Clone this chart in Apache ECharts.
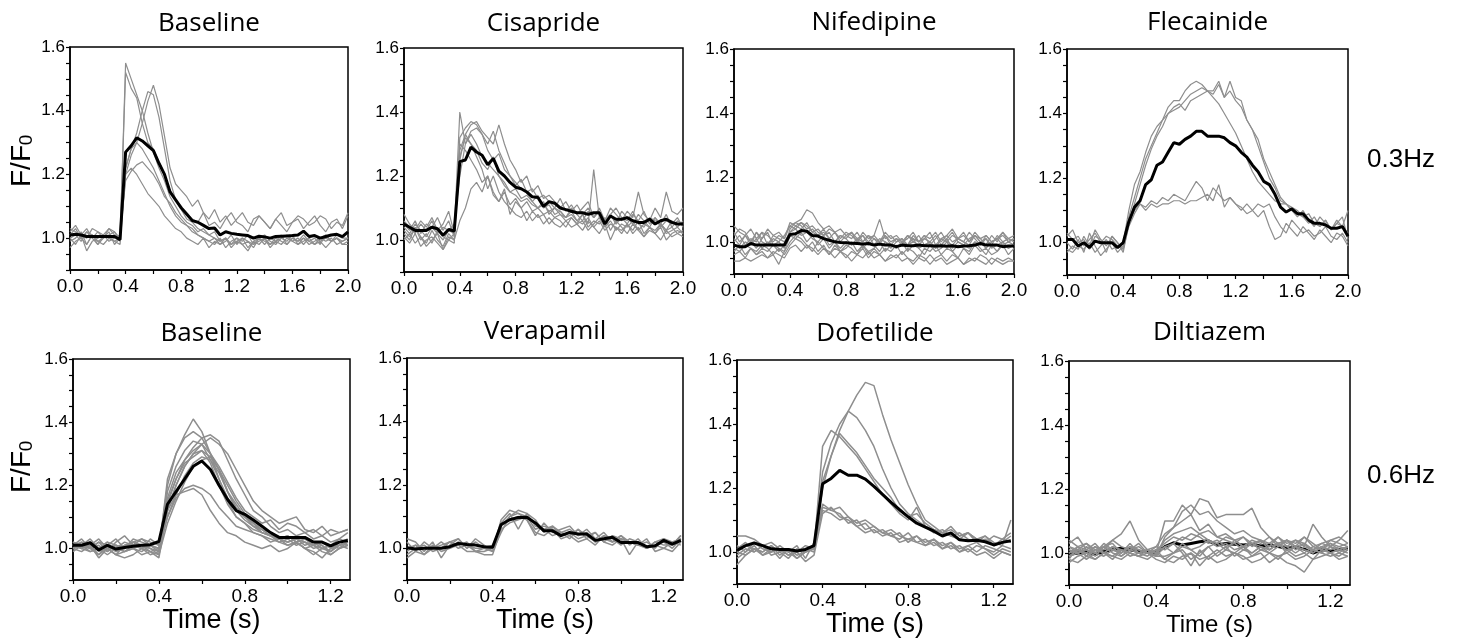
<!DOCTYPE html>
<html>
<head>
<meta charset="utf-8">
<script src="https://cdn.jsdelivr.net/npm/echarts@6/dist/echarts.min.js"></script>
<style>
  html, body { margin: 0; padding: 0; background: #fff; }
  #chart { width: 1460px; height: 640px; }
</style>
</head>
<body>
<div id="chart"></div>
<script>
// sample times (s)
const timeSlow = [0,0.04,0.08,0.12,0.16,0.2,0.24,0.28,0.32,0.36,0.4,0.44,0.48,0.52,0.56,0.6,0.64,0.68,0.72,0.76,0.8,0.84,0.88,0.92,0.96,1.0,1.04,1.08,1.12,1.16,1.2,1.24,1.28,1.32,1.36,1.4,1.44,1.48,1.52,1.56,1.6,1.64,1.68,1.72,1.76,1.8,1.84,1.88,1.92,1.96,2.0];
const timeFast = [0,0.04,0.08,0.12,0.16,0.2,0.24,0.28,0.32,0.36,0.4,0.44,0.48,0.52,0.56,0.6,0.64,0.68,0.72,0.76,0.8,0.84,0.88,0.92,0.96,1.0,1.04,1.08,1.12,1.16,1.2,1.24,1.28];

// tick values
const slowTicks = [0,0.2,0.4,0.6,0.8,1.0,1.2,1.4,1.6,1.8,2.0];
const slowLabels = [0,0.4,0.8,1.2,1.6,2.0];
const fastTicks = [0,0.2,0.4,0.6,0.8,1.0,1.2];
const fastLabels = [0,0.4,0.8,1.2];
const yTicks = [0.9,0.95,1.0,1.05,1.1,1.15,1.2,1.25,1.3,1.35,1.4,1.45,1.5,1.55,1.6];
const yLabels = [1.0,1.2,1.4,1.6];

const panelTitles = ['Baseline','Cisapride','Nifedipine','Flecainide','Baseline','Verapamil','Dofetilide','Diltiazem'];
const rateLabels = ['0.3Hz','0.6Hz'];

// ---- 0.3 Hz ----
const baselineSlowTraces = [
  [1.03,1.02,1.01,1.03,1.00,1.02,1.01,1.03,1.02,0.99,1.55,1.50,1.45,1.40,1.33,1.27,1.22,1.18,1.13,1.10,1.07,1.05,1.04,1.02,1.03,1.01,1.00,0.99,1.00,0.98,1.00,0.99,1.01,0.98,0.99,1.00,0.98,0.99,1.00,1.01,0.99,1.00,0.98,1.00,1.01,0.99,1.00,0.99,1.01,1.00,1.00],
  [1.00,1.01,0.99,1.02,1.00,0.98,1.01,1.00,0.99,1.00,1.52,1.47,1.44,1.36,1.30,1.28,1.24,1.20,1.15,1.12,1.09,1.06,1.05,1.03,1.02,1.01,1.02,0.99,1.00,0.98,0.99,1.00,0.97,0.99,1.00,0.98,1.00,0.99,1.01,0.98,1.00,0.99,1.00,0.98,0.99,1.00,1.01,0.99,1.00,0.98,0.99],
  [1.02,1.04,1.01,1.00,1.03,1.02,1.00,1.01,1.02,1.00,1.20,1.26,1.30,1.36,1.43,1.48,1.42,1.32,1.22,1.17,1.15,1.13,1.10,1.12,1.08,1.06,1.09,1.05,1.07,1.04,1.06,1.08,1.05,1.04,1.07,1.05,1.03,1.06,1.08,1.04,1.05,1.07,1.06,1.04,1.05,1.07,1.06,1.03,1.05,1.04,1.08],
  [0.99,1.00,1.02,0.98,1.01,0.99,1.00,1.02,0.98,1.00,1.22,1.28,1.33,1.40,1.46,1.45,1.38,1.28,1.18,1.12,1.10,1.08,1.06,1.05,1.08,1.04,1.05,1.03,1.06,1.08,1.05,1.04,1.02,1.06,1.07,1.05,1.03,1.06,1.04,1.02,1.05,1.06,1.03,1.05,1.07,1.04,1.02,1.05,1.06,1.03,1.07],
  [1.01,1.03,1.00,1.02,1.01,0.98,1.00,1.03,1.01,1.00,1.22,1.28,1.30,1.28,1.25,1.22,1.18,1.14,1.10,1.07,1.05,1.04,1.02,1.01,1.00,0.99,0.98,1.00,0.97,0.99,1.00,0.98,0.99,0.97,1.00,0.99,0.98,1.00,0.99,0.98,1.00,0.99,1.01,0.99,0.98,1.00,0.99,1.00,0.98,0.99,1.00],
  [0.97,0.99,1.00,0.98,1.01,0.99,0.98,1.00,0.99,0.98,1.20,1.22,1.20,1.17,1.14,1.12,1.10,1.07,1.05,1.03,1.02,1.00,0.99,0.98,1.00,0.97,0.99,0.98,1.00,0.97,0.99,0.98,0.96,0.99,0.98,1.00,0.97,0.99,0.98,1.00,0.99,0.98,0.99,1.00,0.98,0.99,0.97,0.99,1.00,0.98,0.98],
  [1.00,0.98,1.01,0.96,0.99,1.00,1.01,0.99,1.00,1.01,1.18,1.21,1.23,1.24,1.22,1.20,1.17,1.13,1.11,1.08,1.06,1.04,1.03,1.01,1.00,0.99,1.00,0.98,0.99,1.01,0.98,1.00,0.99,0.98,1.00,1.01,0.99,0.98,1.00,0.99,1.01,0.98,1.00,0.99,1.00,0.98,1.01,0.99,1.00,0.99,1.00]
];
const baselineSlowMean = [1.01,1.012,1.01,1.005,1.005,1.005,1.005,1.005,1.005,0.995,1.27,1.29,1.315,1.305,1.29,1.275,1.235,1.2,1.145,1.12,1.095,1.075,1.055,1.05,1.04,1.03,1.032,1.01,1.02,1.015,1.012,1.01,1.008,1.0,1.006,1.004,1.0,1.005,1.006,1.007,1.008,1.01,1.022,1.005,1.008,1.0,1.005,1.01,1.012,1.005,1.02];

const cisaprideTraces = [
  [1.08,1.05,1.03,1.06,1.04,1.07,1.03,1.05,1.09,1.02,1.40,1.30,1.33,1.30,1.26,1.24,1.22,1.20,1.17,1.15,1.16,1.13,1.14,1.12,1.10,1.11,1.09,1.10,1.08,1.07,1.09,1.06,1.08,1.05,1.22,1.07,1.06,1.08,1.05,1.07,1.06,1.09,1.05,1.04,1.07,1.06,1.05,1.08,1.04,1.06,1.05],
  [1.02,1.00,1.04,1.01,0.99,1.03,1.00,0.98,1.02,1.00,1.32,1.35,1.37,1.36,1.33,1.30,1.34,1.28,1.24,1.20,1.18,1.16,1.15,1.12,1.14,1.10,1.11,1.08,1.09,1.07,1.08,1.06,1.05,1.07,1.04,1.06,1.03,1.05,1.04,1.02,1.05,1.03,1.06,1.02,1.04,1.03,1.05,1.02,1.03,1.04,1.02],
  [1.05,1.03,1.06,1.02,1.05,1.04,1.07,1.03,1.06,1.01,1.25,1.33,1.36,1.37,1.34,1.32,1.30,1.36,1.30,1.25,1.22,1.18,1.20,1.15,1.17,1.13,1.14,1.12,1.10,1.12,1.09,1.11,1.08,1.10,1.07,1.09,1.06,1.10,1.08,1.06,1.09,1.07,1.15,1.08,1.06,1.10,1.07,1.15,1.09,1.08,1.10],
  [1.00,1.02,0.99,1.01,0.98,1.00,1.02,0.97,1.00,0.99,1.28,1.33,1.30,1.26,1.22,1.16,1.20,1.15,1.12,1.10,1.08,1.07,1.09,1.06,1.08,1.05,1.07,1.05,1.04,1.06,1.04,1.05,1.03,1.06,1.04,1.02,1.05,1.00,1.04,1.03,1.05,1.02,1.04,1.01,1.03,1.02,1.04,1.00,1.02,1.03,1.02],
  [1.03,1.01,1.04,1.00,1.02,0.99,1.03,1.01,1.00,1.02,1.30,1.28,1.25,1.22,1.18,1.20,1.15,1.12,1.16,1.08,1.12,1.10,1.06,1.09,1.07,1.08,1.05,1.07,1.06,1.04,1.07,1.05,1.06,1.03,1.05,1.07,1.04,1.06,1.03,1.05,1.04,1.06,1.03,1.05,1.04,1.02,1.05,1.03,1.04,1.02,1.03],
  [1.01,0.99,1.02,0.98,1.00,1.01,0.99,0.97,1.01,1.00,1.06,1.10,1.16,1.18,1.15,1.20,1.14,1.12,1.15,1.11,1.13,1.10,1.12,1.09,1.10,1.08,1.09,1.07,1.08,1.06,1.07,1.05,1.08,1.04,1.06,1.05,1.07,1.03,1.06,1.04,1.02,1.05,1.03,1.01,1.04,1.02,1.00,1.03,1.01,1.02,1.01],
  [1.06,1.04,1.02,1.05,1.03,1.06,1.02,1.04,1.03,1.05,1.20,1.30,1.34,1.35,1.33,1.28,1.25,1.27,1.22,1.20,1.17,1.19,1.15,1.16,1.13,1.14,1.12,1.10,1.13,1.09,1.11,1.08,1.10,1.12,1.07,1.09,1.06,1.08,1.10,1.07,1.05,1.08,1.06,1.09,1.05,1.07,1.04,1.06,1.05,1.07,1.04],
  [1.04,1.02,1.05,1.03,1.01,1.04,1.02,1.00,1.03,1.02,1.26,1.32,1.30,1.28,1.24,1.22,1.26,1.20,1.18,1.15,1.14,1.12,1.13,1.11,1.10,1.12,1.08,1.10,1.09,1.07,1.10,1.08,1.06,1.09,1.07,1.10,1.06,1.08,1.05,1.09,1.07,1.05,1.08,1.06,1.04,1.07,1.05,1.03,1.06,1.04,1.06]
];
const cisaprideMean = [1.05,1.04,1.03,1.03,1.03,1.04,1.035,1.015,1.033,1.028,1.245,1.25,1.29,1.275,1.265,1.235,1.255,1.215,1.2,1.18,1.165,1.16,1.15,1.135,1.133,1.105,1.12,1.115,1.1,1.095,1.09,1.085,1.085,1.08,1.085,1.085,1.05,1.075,1.065,1.065,1.07,1.06,1.055,1.055,1.065,1.05,1.06,1.065,1.055,1.05,1.05];

const nifedipineTraces = [
  [1.05,1.03,1.02,1.04,1.01,1.03,1.02,1.00,1.02,1.01,1.05,1.06,1.07,1.10,1.09,1.06,1.04,1.05,1.03,1.04,1.02,1.03,1.01,1.02,1.00,1.02,1.07,1.01,1.02,1.00,1.01,0.99,1.02,1.00,1.01,1.03,0.99,1.01,1.02,1.00,1.01,1.03,1.00,1.02,1.01,0.99,1.02,1.00,1.03,1.01,1.02],
  [1.02,1.04,1.03,1.00,1.03,1.01,1.04,1.02,1.03,1.01,1.06,1.05,1.06,1.04,1.05,1.03,1.02,1.04,1.03,1.01,1.03,1.02,1.00,1.03,1.01,1.02,1.00,1.03,1.01,1.02,1.00,1.01,1.03,1.00,1.02,1.01,1.03,1.00,1.02,1.04,1.01,1.02,1.00,1.03,1.01,1.02,1.00,1.01,1.03,1.00,1.01],
  [1.00,1.02,0.99,1.01,1.00,1.03,0.99,1.01,1.00,0.98,1.04,1.06,1.05,1.03,1.04,1.02,1.03,1.01,1.00,1.02,1.01,0.99,1.01,1.00,1.02,0.99,1.01,1.00,0.98,1.00,1.01,0.99,1.00,1.02,0.99,1.00,0.98,1.01,1.00,0.99,1.01,1.00,0.99,1.02,1.00,0.98,1.00,1.01,0.99,1.00,0.99],
  [0.99,0.98,1.00,0.99,1.01,0.98,1.00,0.99,0.97,0.99,1.03,1.04,1.02,1.03,1.01,1.00,1.02,0.99,1.00,0.98,1.00,0.99,1.01,0.98,1.00,0.99,0.97,1.00,0.99,0.98,1.00,0.99,1.01,0.98,0.99,1.00,0.98,0.99,1.01,0.98,1.00,0.99,0.98,1.00,0.99,1.01,0.98,0.99,1.00,0.98,0.99],
  [0.98,0.97,0.99,0.98,0.96,0.98,0.97,0.99,0.98,0.97,1.02,1.01,1.03,1.00,1.02,0.99,1.01,0.98,1.00,0.97,0.99,0.98,0.96,0.99,0.97,0.98,0.96,0.98,0.97,0.99,0.96,0.98,0.97,0.95,0.98,0.97,0.99,0.96,0.98,0.97,0.95,0.98,0.96,0.99,0.97,0.98,0.96,0.97,0.99,0.96,0.98],
  [0.96,0.97,0.95,0.98,0.96,0.97,0.95,0.96,0.98,0.96,0.99,1.01,1.00,0.98,1.00,0.97,0.99,0.96,0.98,0.97,0.95,0.97,0.96,0.98,0.95,0.97,0.96,0.94,0.96,0.95,0.97,0.95,0.94,0.96,0.95,0.93,0.95,0.96,0.94,0.96,0.95,0.93,0.95,0.94,0.96,0.95,0.93,0.95,0.94,0.95,0.94],
  [0.94,0.94,0.95,0.94,0.95,0.96,0.95,0.97,0.96,0.95,0.98,0.99,0.97,0.99,0.98,0.96,0.98,0.97,0.95,0.97,0.96,0.94,0.96,0.95,0.97,0.95,0.96,0.94,0.95,0.96,0.94,0.95,0.93,0.95,0.94,0.96,0.94,0.95,0.93,0.94,0.95,0.93,0.94,0.95,0.94,0.93,0.95,0.94,0.93,0.94,0.94],
  [1.01,0.99,1.02,1.00,0.98,1.01,1.03,0.99,1.00,1.02,1.05,1.04,1.06,1.05,1.03,1.04,1.02,1.03,1.00,1.02,1.01,1.03,1.00,1.02,0.99,1.01,1.00,1.02,0.99,1.01,1.00,1.02,1.00,0.99,1.01,1.00,1.02,0.99,1.01,1.03,1.00,0.99,1.01,1.02,1.00,1.01,0.99,1.02,1.00,1.01,1.00],
  [0.97,0.99,0.96,0.98,0.97,0.99,0.98,0.96,0.93,0.97,1.00,1.02,1.01,0.99,0.97,1.00,0.98,0.96,0.99,0.97,0.98,1.00,0.97,0.99,0.96,0.98,1.00,0.97,0.99,0.98,1.00,0.97,0.99,0.98,0.96,0.99,0.97,0.98,1.00,0.97,0.99,0.98,0.97,1.00,0.98,0.96,0.99,0.97,1.00,0.98,0.99],
  [1.03,1.00,1.02,0.99,1.03,1.00,0.99,1.02,1.01,1.00,1.03,1.05,1.04,1.06,1.03,1.02,1.04,1.01,1.03,1.00,1.02,1.01,1.03,1.00,1.02,1.01,0.99,1.02,1.00,1.01,0.99,1.02,1.01,1.00,1.02,0.99,1.01,1.03,1.00,1.02,1.01,1.00,1.03,1.01,0.99,1.02,1.00,1.01,1.02,1.00,1.01]
];
const nifedipineMean = [0.99,0.985,0.985,0.995,0.99,0.99,0.99,0.99,0.99,0.99,1.023,1.025,1.035,1.033,1.02,1.018,1.01,1.005,1.0,0.998,0.997,0.996,0.995,0.993,0.995,0.99,0.993,0.99,0.99,0.985,0.99,0.988,0.988,0.99,0.988,0.988,0.987,0.988,0.986,0.988,0.985,0.987,0.988,0.99,0.995,0.99,0.99,0.99,0.985,0.987,0.987];

const flecainideTraces = [
  [1.03,1.01,1.02,0.99,1.01,1.03,1.00,1.02,1.01,0.99,1.00,1.10,1.18,1.22,1.28,1.33,1.36,1.38,1.42,1.44,1.44,1.47,1.49,1.50,1.49,1.47,1.45,1.43,1.40,1.37,1.34,1.30,1.26,1.22,1.19,1.17,1.15,1.13,1.12,1.12,1.10,1.09,1.08,1.06,1.08,1.05,1.07,1.04,1.06,1.05,1.03],
  [0.98,0.97,0.99,0.98,1.00,0.97,0.99,1.01,0.98,0.99,0.98,1.08,1.14,1.20,1.26,1.30,1.34,1.38,1.40,1.42,1.43,1.41,1.44,1.45,1.46,1.47,1.47,1.50,1.45,1.50,1.45,1.44,1.38,1.35,1.30,1.25,1.20,1.17,1.13,1.12,1.10,1.08,1.10,1.07,1.05,1.08,1.06,1.04,1.07,1.05,1.10],
  [1.02,1.04,1.00,1.01,0.98,1.02,1.01,0.99,1.02,1.00,0.97,1.06,1.12,1.18,1.24,1.29,1.33,1.36,1.40,1.41,1.42,1.44,1.46,1.47,1.48,1.47,1.46,1.49,1.45,1.47,1.44,1.42,1.38,1.35,1.32,1.26,1.22,1.18,1.14,1.12,1.11,1.10,1.08,1.09,1.06,1.05,1.07,1.04,1.06,1.08,1.01],
  [1.00,0.98,1.01,0.97,1.03,0.99,0.96,0.98,1.00,0.97,0.99,1.06,1.10,1.12,1.11,1.13,1.12,1.14,1.13,1.15,1.14,1.13,1.16,1.19,1.17,1.13,1.17,1.15,1.13,1.14,1.12,1.10,1.12,1.10,1.08,1.10,1.05,1.01,1.02,1.06,1.04,1.02,1.05,1.03,1.01,1.04,1.02,1.00,1.03,1.02,0.99],
  [0.97,0.99,0.98,1.02,0.99,1.04,1.01,0.97,1.02,1.00,0.98,1.05,1.09,1.12,1.10,1.12,1.11,1.12,1.12,1.13,1.13,1.12,1.13,1.13,1.14,1.15,1.13,1.18,1.11,1.14,1.12,1.11,1.09,1.10,1.12,1.11,1.12,1.08,1.05,1.03,1.07,1.05,1.03,1.04,1.02,1.03,1.05,1.02,1.01,1.03,1.00]
];
const flecainideMean = [1.01,1.01,0.99,1.0,0.985,1.005,1.0,1.0,1.0,0.985,1.0,1.065,1.11,1.13,1.18,1.195,1.24,1.25,1.28,1.31,1.305,1.32,1.33,1.345,1.345,1.33,1.33,1.33,1.325,1.31,1.3,1.28,1.265,1.24,1.22,1.19,1.18,1.15,1.11,1.095,1.105,1.09,1.09,1.07,1.06,1.06,1.055,1.045,1.045,1.05,1.02];

// ---- 0.6 Hz ----
const baselineFastTraces = [
  [1.02,1.01,1.03,1.00,1.02,1.01,1.00,1.03,1.02,1.01,1.00,1.20,1.30,1.36,1.41,1.37,1.30,1.22,1.15,1.10,1.08,1.06,1.05,1.04,1.03,1.02,1.03,1.01,1.02,1.00,1.01,1.03,1.02],
  [1.00,1.02,1.01,0.98,1.01,1.03,1.00,1.02,1.01,1.00,0.99,1.22,1.30,1.35,1.37,1.35,1.30,1.25,1.18,1.14,1.10,1.08,1.05,1.04,1.03,1.04,1.02,1.03,1.02,1.01,0.99,1.02,1.01],
  [1.01,1.03,1.00,1.02,0.99,1.01,1.00,1.02,1.03,1.01,1.02,1.15,1.22,1.28,1.32,1.35,1.36,1.34,1.28,1.22,1.17,1.12,1.10,1.07,1.05,1.06,1.04,1.05,1.03,1.04,1.02,1.03,1.05],
  [1.02,1.00,1.01,1.03,1.00,0.98,1.01,1.02,1.00,1.03,1.01,1.12,1.20,1.26,1.30,1.33,1.35,1.33,1.30,1.25,1.20,1.15,1.12,1.10,1.08,1.09,1.10,1.06,1.05,1.07,1.04,1.05,1.06],
  [0.99,1.01,1.02,1.00,1.01,0.99,1.00,1.02,1.01,1.00,0.98,1.18,1.26,1.31,1.34,1.33,1.28,1.22,1.16,1.12,1.09,1.07,1.05,1.04,1.02,1.03,1.01,1.02,1.00,1.01,0.98,1.00,1.01],
  [1.02,1.01,1.00,1.02,1.01,1.00,1.02,1.01,1.00,1.01,0.99,1.12,1.20,1.26,1.30,1.31,1.29,1.25,1.18,1.12,1.10,1.07,1.06,1.04,1.03,1.02,1.03,1.02,1.01,1.02,1.00,1.01,1.02],
  [1.00,1.01,0.99,1.00,1.02,0.99,1.01,1.00,0.99,1.01,1.00,1.10,1.17,1.23,1.27,1.29,1.28,1.24,1.18,1.13,1.10,1.08,1.06,1.05,1.03,1.04,1.02,1.03,1.01,1.02,1.01,1.00,1.02],
  [1.01,1.00,1.02,0.99,1.00,1.01,0.99,1.01,1.00,0.99,0.98,1.08,1.15,1.21,1.26,1.28,1.29,1.25,1.20,1.15,1.11,1.08,1.06,1.04,1.03,1.02,1.03,1.02,1.01,1.00,1.01,1.02,1.03],
  [1.00,0.99,1.01,0.97,1.00,0.98,0.99,1.00,1.01,0.99,1.00,1.10,1.16,1.19,1.20,1.19,1.17,1.13,1.10,1.07,1.06,1.05,1.04,1.03,1.02,1.01,1.02,1.00,1.01,0.99,0.98,1.00,1.01],
  [1.01,1.00,0.99,1.00,0.98,1.00,0.99,1.00,0.98,0.99,0.97,1.12,1.17,1.18,1.19,1.17,1.12,1.08,1.05,1.04,1.02,1.01,1.00,1.01,0.99,1.00,1.02,1.00,0.99,0.97,1.00,1.01,1.00],
  [1.01,1.02,1.00,1.01,0.99,1.02,1.04,1.01,1.03,1.02,1.01,1.16,1.24,1.28,1.31,1.33,1.30,1.26,1.21,1.16,1.12,1.10,1.08,1.09,1.06,1.08,1.07,1.05,1.06,1.04,1.06,1.05,1.06],
  [1.00,1.01,1.00,0.98,1.00,0.98,0.97,0.98,1.00,0.98,0.99,1.14,1.22,1.27,1.29,1.31,1.27,1.20,1.14,1.10,1.08,1.05,1.04,1.02,1.03,1.01,1.02,1.00,0.98,1.00,0.99,1.01,1.02]
];
const baselineFastMean = [1.01,1.01,1.018,0.995,1.01,0.998,1.003,1.007,1.01,1.012,1.022,1.14,1.18,1.22,1.26,1.277,1.25,1.2,1.155,1.12,1.108,1.09,1.07,1.05,1.035,1.035,1.035,1.035,1.02,1.02,1.008,1.02,1.025];

const verapamilTraces = [
  [1.03,1.02,0.99,1.02,0.97,1.01,1.03,1.00,1.03,1.01,0.99,1.09,1.12,1.11,1.10,1.06,1.07,1.06,1.05,1.06,1.04,1.06,1.03,1.05,1.02,1.04,1.01,1.03,1.00,1.02,1.03,1.01,1.04],
  [0.98,1.00,1.01,0.99,1.00,1.02,1.01,0.99,0.99,0.98,0.98,1.06,1.08,1.09,1.10,1.08,1.06,1.07,1.05,1.04,1.06,1.03,1.05,1.02,1.01,1.03,0.98,1.02,1.00,1.01,1.00,1.02,1.01],
  [0.97,0.99,0.98,1.01,0.99,1.00,1.02,1.01,0.99,0.99,1.00,1.08,1.11,1.06,1.11,1.09,1.05,1.07,1.04,1.05,1.03,1.04,1.02,1.03,1.02,1.04,1.02,1.01,1.03,0.99,1.00,0.99,1.02],
  [1.02,0.99,1.02,1.00,1.02,1.00,1.01,1.02,0.99,1.00,1.01,1.07,1.10,1.11,1.09,1.04,1.08,1.05,1.06,1.07,1.04,1.05,1.02,1.04,1.03,1.01,1.03,1.02,1.00,1.01,1.02,1.00,1.03],
  [1.00,1.01,0.98,1.00,1.01,1.02,1.00,1.01,1.00,1.00,0.99,1.05,1.10,1.12,1.11,1.07,1.06,1.04,1.05,1.03,1.06,1.04,1.05,1.02,1.04,1.03,1.02,1.01,1.02,1.00,1.03,1.02,1.03],
  [0.99,1.01,1.00,1.00,1.00,1.02,1.03,1.00,1.02,1.00,1.00,1.07,1.09,1.10,1.09,1.05,1.04,1.06,1.03,1.04,1.02,1.03,1.01,1.04,1.02,1.03,1.02,1.01,1.00,1.02,1.01,1.01,1.04]
];
const verapamilMean = [1.002,0.998,1.0,1.0,1.0,1.005,1.015,1.012,1.01,1.005,1.003,1.075,1.09,1.097,1.098,1.08,1.055,1.055,1.04,1.05,1.045,1.045,1.025,1.03,1.035,1.018,1.018,1.018,1.005,1.008,1.025,1.013,1.025];

const dofetilideTraces = [
  [1.05,1.05,1.04,1.02,1.00,1.01,0.99,1.00,1.02,1.01,1.20,1.30,1.38,1.44,1.49,1.53,1.52,1.43,1.35,1.28,1.21,1.15,1.10,1.08,1.06,1.07,1.05,1.06,1.04,1.05,1.03,1.02,1.10],
  [1.00,1.02,1.01,0.99,1.00,1.02,1.00,0.98,1.00,1.01,1.25,1.34,1.40,1.44,1.42,1.38,1.33,1.26,1.20,1.15,1.12,1.10,1.08,1.07,1.06,1.05,1.06,1.04,1.03,1.05,1.02,1.03,1.05],
  [0.98,1.00,1.02,0.99,1.01,0.98,1.01,0.99,1.00,1.01,1.33,1.38,1.36,1.33,1.30,1.26,1.22,1.18,1.15,1.12,1.10,1.14,1.08,1.06,1.07,1.05,1.04,1.06,1.03,1.04,1.02,1.04,1.03],
  [0.96,0.99,1.01,1.00,1.02,0.99,1.01,0.98,1.00,1.02,1.22,1.30,1.37,1.34,1.31,1.27,1.23,1.20,1.17,1.13,1.11,1.12,1.09,1.07,1.06,1.08,1.05,1.06,1.04,1.03,1.05,1.04,1.06],
  [1.01,1.03,1.00,1.02,1.03,1.01,1.00,1.02,0.98,1.03,1.14,1.13,1.14,1.11,1.09,1.10,1.08,1.06,1.07,1.05,1.04,1.05,1.03,1.04,1.02,1.03,1.01,1.02,1.00,1.02,1.01,1.00,0.99],
  [0.99,1.01,1.00,1.02,0.99,1.00,0.98,1.01,1.00,1.02,1.13,1.12,1.10,1.11,1.08,1.09,1.06,1.07,1.05,1.06,1.03,1.05,1.02,1.04,1.01,1.03,1.00,1.02,1.03,1.01,1.00,1.02,1.01],
  [1.02,1.00,1.03,1.01,1.00,1.01,0.99,1.00,1.01,1.00,1.15,1.13,1.12,1.09,1.10,1.07,1.08,1.06,1.05,1.04,1.06,1.03,1.04,1.02,1.03,1.01,1.02,1.00,1.02,1.01,0.99,1.01,1.00],
  [1.00,0.99,1.01,1.00,1.02,1.00,1.01,1.00,0.97,0.99,1.12,1.14,1.11,1.10,1.08,1.06,1.07,1.05,1.06,1.03,1.04,1.03,1.02,1.03,1.01,1.02,1.00,1.01,0.99,1.00,0.98,1.00,0.99]
];
const dofetilideMean = [1.005,1.02,1.028,1.02,1.01,1.008,1.008,1.003,1.008,1.02,1.213,1.23,1.255,1.24,1.24,1.228,1.205,1.18,1.155,1.132,1.11,1.09,1.078,1.065,1.05,1.06,1.038,1.035,1.037,1.032,1.022,1.03,1.035];

const diltiazemTraces = [
  [1.00,1.02,0.99,1.01,1.00,1.02,1.01,0.99,1.00,1.01,1.00,1.10,1.10,1.15,1.12,1.17,1.16,1.11,1.12,1.12,1.12,1.14,1.08,1.05,1.03,1.04,1.02,1.03,1.01,1.02,1.00,1.01,1.02],
  [1.02,1.00,1.01,0.99,1.02,1.01,1.00,1.02,1.00,1.01,0.99,1.05,1.08,1.13,1.15,1.12,1.13,1.10,1.08,1.06,1.07,1.05,1.04,1.03,1.05,1.02,1.04,1.03,1.01,1.03,1.02,1.00,1.02],
  [0.99,1.01,1.00,1.02,1.01,1.04,1.06,1.10,1.04,1.01,1.00,1.04,1.06,1.07,1.08,1.06,1.07,1.05,1.04,1.03,1.05,1.02,1.04,1.01,1.03,1.02,1.00,1.02,1.01,1.00,1.02,1.01,1.00],
  [1.04,1.02,1.03,1.01,1.02,1.03,1.00,1.02,1.01,1.00,0.99,1.02,1.03,1.05,1.04,1.06,1.04,1.03,1.05,1.04,1.02,1.04,1.03,1.05,1.02,1.04,1.03,1.05,1.02,1.03,1.04,1.05,1.03],
  [1.03,1.05,1.01,1.03,1.00,1.02,0.99,1.01,1.03,1.00,1.01,0.98,1.00,1.02,1.01,0.99,1.02,1.03,1.01,1.04,1.02,1.03,1.01,1.02,1.05,1.03,1.04,1.02,1.09,1.05,1.02,1.04,1.07],
  [0.98,0.97,0.99,0.98,1.00,0.99,1.01,1.00,0.99,0.98,1.00,0.98,0.97,0.99,1.00,0.98,0.99,1.01,0.99,1.00,0.98,0.99,1.00,0.97,0.99,1.00,0.98,0.99,1.01,1.00,0.99,1.00,0.99],
  [0.97,0.99,1.00,0.98,1.00,0.99,0.98,1.00,0.99,1.00,0.98,0.97,0.99,0.98,1.00,0.96,0.99,0.97,0.98,1.00,0.99,0.97,0.98,1.00,0.99,0.97,0.96,0.94,0.98,0.99,1.00,0.98,0.99],
  [1.00,1.01,0.99,1.02,1.00,0.98,1.01,1.00,0.99,1.01,1.00,1.02,1.00,1.03,1.01,1.02,1.04,1.02,1.03,1.01,1.02,1.00,1.02,1.01,1.03,1.00,1.02,1.01,1.00,1.02,1.01,1.02,1.03],
  [1.01,1.00,1.02,1.00,0.99,1.01,1.00,1.03,1.00,0.99,1.01,1.03,1.05,1.04,1.06,1.05,1.03,1.04,1.02,1.03,1.01,1.03,1.02,1.00,1.02,1.04,1.01,1.03,1.00,1.02,1.03,1.01,1.02],
  [0.99,1.00,0.98,1.00,1.02,1.00,0.99,1.01,1.02,1.00,0.99,0.99,1.00,1.01,0.98,1.00,1.02,0.99,1.01,1.00,1.02,0.99,1.01,1.00,0.98,1.01,0.99,1.00,0.98,1.01,1.00,0.99,1.01],
  [1.02,1.01,1.03,1.00,1.02,1.04,1.02,1.01,1.00,1.01,1.02,1.01,1.03,1.00,0.96,1.01,0.98,1.00,1.02,0.99,1.01,1.00,1.02,1.01,1.03,1.04,1.02,1.05,1.03,1.01,1.04,1.03,1.02],
  [0.98,1.02,1.01,1.00,1.03,1.01,1.00,1.02,1.01,1.00,1.02,1.06,1.08,1.10,1.12,1.07,1.09,1.05,1.06,1.04,1.05,1.03,1.04,1.02,1.03,1.01,1.02,1.00,1.02,1.01,1.03,1.02,1.01]
];
const diltiazemMean = [0.995,1.0,1.005,0.995,1.005,1.01,1.015,1.01,1.005,1.005,1.0,1.02,1.032,1.025,1.03,1.035,1.038,1.025,1.03,1.027,1.025,1.027,1.022,1.025,1.02,1.015,1.018,1.012,1.0,1.01,1.008,1.01,1.015];

// panel boxes (pixels)
const boxes = [
  { left: 70,   top: 47,  width: 278, height: 223, titleY: 24 },
  { left: 404,  top: 48,  width: 279, height: 224, titleY: 24 },
  { left: 734,  top: 49,  width: 280, height: 225, titleY: 23 },
  { left: 1067, top: 49,  width: 281, height: 226, titleY: 23 },
  { left: 73,   top: 359, width: 277, height: 221, titleY: 334, nameGap: 21 },
  { left: 407,  top: 358, width: 276, height: 222, titleY: 332, nameGap: 22 },
  { left: 737,  top: 360, width: 276, height: 224, titleY: 334, nameGap: 18 },
  { left: 1069, top: 361, width: 281, height: 224, titleY: 333, nameGap: 28 }
];

const panels = [
  { traces: baselineSlowTraces, mean: baselineSlowMean, time: timeSlow },
  { traces: cisaprideTraces,    mean: cisaprideMean,    time: timeSlow },
  { traces: nifedipineTraces,   mean: nifedipineMean,   time: timeSlow },
  { traces: flecainideTraces,   mean: flecainideMean,   time: timeSlow },
  { traces: baselineFastTraces, mean: baselineFastMean, time: timeFast },
  { traces: verapamilTraces,    mean: verapamilMean,    time: timeFast },
  { traces: dofetilideTraces,   mean: dofetilideMean,   time: timeFast },
  { traces: diltiazemTraces,    mean: diltiazemMean,    time: timeFast, meanBelow: true }
];

const AX = 'Liberation Sans, Arial, sans-serif';
const TITLE_FONT = '"Open Sans", sans-serif';

const chart = echarts.init(document.getElementById('chart'));

const grids = [], xAxes = [], yAxes = [], series = [], graphics = [];

panels.forEach(function (p, i) {
  const b = boxes[i];
  const slow = i < 4;

  grids.push({
    left: b.left, top: b.top, width: b.width, height: b.height,
    show: true, borderColor: '#000', borderWidth: 1.5,
    backgroundColor: 'transparent', containLabel: false, outerBoundsMode: 'none'
  });

  xAxes.push({
    gridIndex: i, type: 'value', min: 0, max: slow ? 2.0 : 1.29,
    axisLine: { show: true, onZero: false, lineStyle: { color: '#000', width: 1.5 } },
    axisTick: { show: true, inside: false, length: 4, customValues: slow ? slowTicks : fastTicks,
                lineStyle: { color: '#000', width: 1.2 } },
    axisLabel: { customValues: slow ? slowLabels : fastLabels, formatter: v => v.toFixed(1),
                 fontFamily: AX, fontSize: 19, color: '#000', margin: 7 },
    splitLine: { show: false },
    name: slow ? '' : 'Time (s)',
    nameLocation: 'middle',
    nameGap: b.nameGap || 20,
    nameTextStyle: { fontFamily: AX, fontSize: i === 7 ? 24 : 27, color: '#000' }
  });

  yAxes.push({
    gridIndex: i, type: 'value', min: 0.9, max: 1.6,
    axisLine: { show: true, onZero: false, lineStyle: { color: '#000', width: 1.5 } },
    axisTick: { show: true, inside: false, length: 4, customValues: yTicks,
                lineStyle: { color: '#000', width: 1.2 } },
    axisLabel: { customValues: yLabels, formatter: v => v.toFixed(1),
                 fontFamily: AX, fontSize: 17, color: '#000', margin: 5 },
    splitLine: { show: false }
  });

  p.traces.forEach(function (tr) {
    series.push({
      type: 'line', xAxisIndex: i, yAxisIndex: i,
      data: p.time.map((t, k) => [t, tr[k]]),
      symbol: 'none', silent: true, animation: false, z: 2,
      lineStyle: { color: '#8e8e8e', width: slow ? 1.2 : 1.5 }
    });
  });
  series.push({
    type: 'line', xAxisIndex: i, yAxisIndex: i,
    data: p.time.map((t, k) => [t, p.mean[k]]),
    symbol: 'none', silent: true, animation: false, z: p.meanBelow ? 1 : 3,
    lineStyle: { color: '#000', width: 3 }
  });

  graphics.push({
    type: 'text', x: b.left + b.width / 2, y: b.titleY,
    style: { text: panelTitles[i], font: '26px ' + TITLE_FONT, fill: '#000',
             textAlign: 'center', align: 'center', textVerticalAlign: 'middle', verticalAlign: 'middle' }
  });
});

// F/F0 axis names and rate labels
[160, 466].forEach(function (cy, r) {
  graphics.push({
    type: 'text', x: 22, y: cy + 6, rotation: Math.PI / 2,
    style: { text: 'F/F', font: '28px ' + AX, fill: '#000',
             textAlign: 'center', align: 'center', textVerticalAlign: 'middle', verticalAlign: 'middle' }
  });
  graphics.push({
    type: 'text', x: 27, y: cy - 20, rotation: Math.PI / 2,
    style: { text: '0', font: '19px ' + AX, fill: '#000',
             textAlign: 'center', align: 'center', textVerticalAlign: 'middle', verticalAlign: 'middle' }
  });
  graphics.push({
    type: 'text', x: 1401, y: r === 0 ? 160 : 476,
    style: { text: rateLabels[r], font: '26px ' + AX, fill: '#000',
             textAlign: 'center', align: 'center', textVerticalAlign: 'middle', verticalAlign: 'middle' }
  });
});

chart.setOption({
  animation: false,
  backgroundColor: '#fff',
  grid: grids,
  xAxis: xAxes,
  yAxis: yAxes,
  series: series,
  graphic: { elements: graphics }
});
</script>
</body>
</html>
